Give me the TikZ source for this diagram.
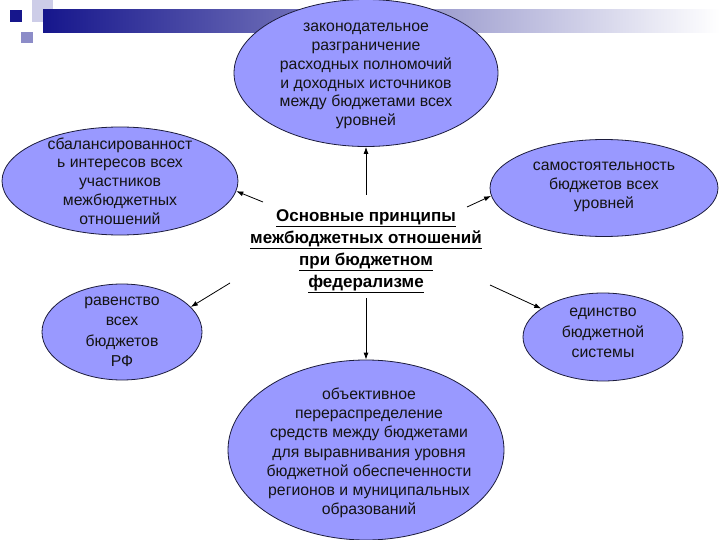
\documentclass[tikz,border=0pt]{standalone}
\usepackage{fontspec}
\setmainfont{Liberation Sans}
\usetikzlibrary{arrows.meta, shapes.geometric, positioning}
\definecolor{bubble}{RGB}{153,153,255}
\definecolor{rim}{RGB}{28,28,60}
\definecolor{navy}{RGB}{22,22,140}
\definecolor{barmid}{RGB}{190,190,208}
\definecolor{lav}{RGB}{205,205,232}
\definecolor{midlav}{RGB}{140,140,200}

\begin{document}
\begin{tikzpicture}[
  x=1pt, y=-1pt,
  bub/.style={ellipse, draw=rim, line width=0.8pt, fill=bubble, inner sep=0pt},
  txt/.style={align=center, font=\fontsize{15.8}{18.8}\selectfont, text=black!92},
  ttl/.style={align=center, font=\fontsize{17}{22}\selectfont\bfseries},
  e/.style={-{Latex[length=7pt, width=5pt]}, draw=black, line width=0.8pt}
]
\useasboundingbox (0,0) rectangle (720,540);
\fill[white] (0,0) rectangle (720,540);

% ================================================= slide decoration
\fill[lav] (32,0) rectangle (53,22);
\shade[left color=navy, middle color=barmid, right color=white] (43,10) rectangle (720,33);
\fill[navy] (10,10) rectangle (22,22);
\fill[midlav] (21,32) rectangle (33,43);

% ================================================= principles
\node[bub, minimum width=264pt, minimum height=147pt] (top) at (366,73) {};
\node[txt] (topT) at (366,76)
  {законодательное\\ разграничение\\ расходных полномочий\\ и доходных источников\\ между бюджетами всех\\ уровней};

\node[bub, minimum width=236pt, minimum height=108pt] (lt) at (120,181) {};
\node[txt] (ltT) at (120,181)
  {сбалансированност\\ ь интересов всех\\ участников\\ межбюджетных\\ отношений};

\node[bub, minimum width=228pt, minimum height=97pt] (rt) at (604,188) {};
\node[txt] (rtT) at (604,187)
  {самостоятельность\\ бюджетов всех\\ уровней};

\node[bub, minimum width=160pt, minimum height=96pt] (lb) at (122,332) {};
\node[txt, font=\fontsize{15.8}{20.5}\selectfont] (lbT) at (122,332)
  {равенство\\ всех\\ бюджетов\\ РФ};

\node[bub, minimum width=160pt, minimum height=88pt] (rb) at (603,337) {};
\node[txt, font=\fontsize{15.8}{20.5}\selectfont] (rbT) at (603,333)
  {единство\\ бюджетной\\ системы};

\node[bub, minimum width=276pt, minimum height=180pt] (bot) at (366,450) {};
\node[txt, font=\fontsize{15.8}{19.2}\selectfont] (botT) at (369,453)
  {объективное\\ перераспределение\\ средств между бюджетами\\ для выравнивания уровня\\ бюджетной обеспеченности\\ регионов и муниципальных\\ образований};

% ================================================= centre
\node[ttl] (core) at (366,251)
  {\underline{Основные принципы}\\ \underline{межбюджетных отношений}\\ \underline{при бюджетном}\\ \underline{федерализме}};

\coordinate (su)  at (366,195);
\coordinate (sul) at (263,202);
\coordinate (sur) at (467,207);
\coordinate (sll) at (230,283);
\coordinate (slr) at (490,285);
\coordinate (sd)  at (366,298);

\draw[e] (su)  -- (top);
\draw[e] (sul) -- (lt.-5);
\draw[e] (sur) -- (rt.184);
\draw[e] (sll) -- (lb.20);
\draw[e] (slr) -- (rb);
\draw[e] (sd)  -- (bot);

\end{tikzpicture}
\end{document}
